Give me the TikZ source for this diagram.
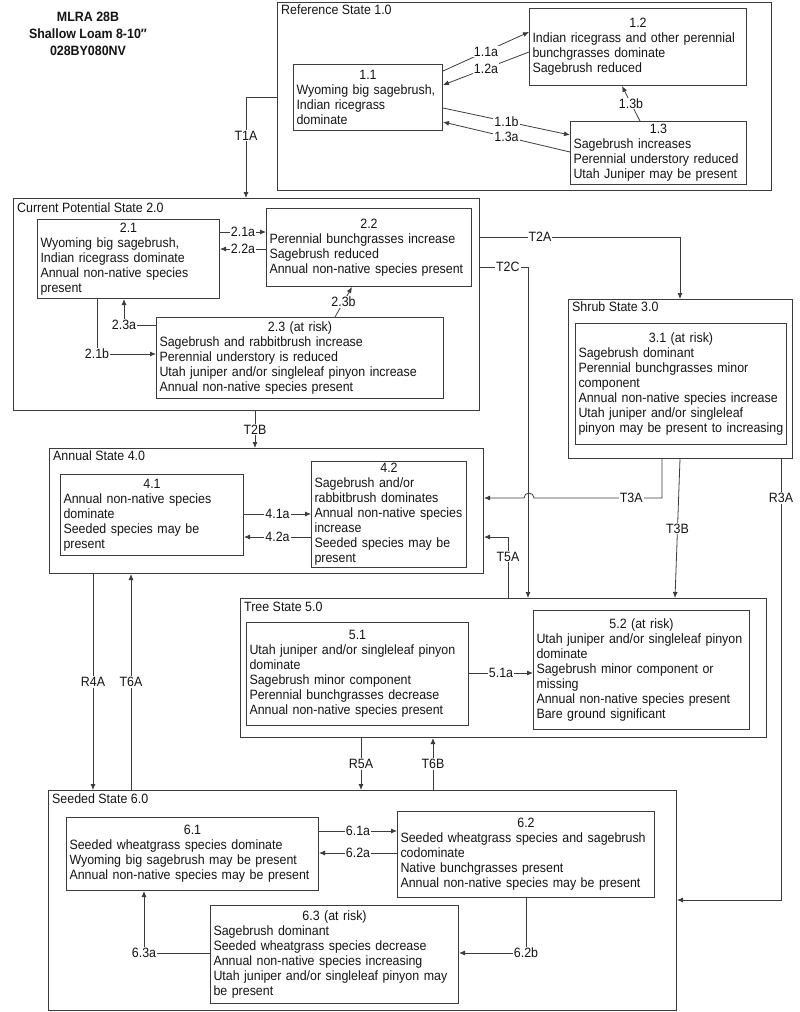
\documentclass[tikz,border=0pt]{standalone}
\usepackage{fontspec}
\setmainfont{Liberation Sans}[FakeStretch=0.92]
\usetikzlibrary{calc,arrows.meta}
\definecolor{linegray}{RGB}{60,60,60}
\definecolor{inkgray}{RGB}{20,20,20}
\begin{document}
\begin{tikzpicture}[x=1pt, y=-1pt, >={Latex[length=6pt,width=5pt]},
  font=\fontsize{13.5}{15}\selectfont, text=inkgray,
  statebox/.style={draw=linegray, line width=1pt, anchor=north west, inner sep=0pt},
  stlbl/.style={anchor=north west, inner sep=2pt},
  phase/.style={draw=linegray, line width=1pt, anchor=north west, align=left, inner xsep=3pt, inner ysep=2pt},
  lbl/.style={fill=white, inner sep=1pt},
  conn/.style={draw=linegray, line width=0.8pt, ->}]
\useasboundingbox (0,0) rectangle (800,1012);
\node[font=\fontsize{13.5}{17}\selectfont\bfseries, align=center] (title) at (88,34) {MLRA 28B\\Shallow Loam 8-10″\\028BY080NV};

\node[statebox, minimum width=494pt, minimum height=188pt] (s1) at (277,2) {};
\node[statebox, minimum width=466pt, minimum height=212pt] (s2) at (13,198) {};
\node[statebox, minimum width=224pt, minimum height=159pt] (s3) at (568,299) {};
\node[statebox, minimum width=434pt, minimum height=125pt] (s4) at (49,448) {};
\node[statebox, minimum width=526pt, minimum height=139pt] (s5) at (240,598) {};
\node[statebox, minimum width=628pt, minimum height=220pt] (s6) at (48,790) {};
\node[stlbl] (l1) at ($(s1.north west)+(2,1)$) {Reference State 1.0};
\node[stlbl] (l2) at ($(s2.north west)+(2,3)$) {Current Potential State 2.0};
\node[stlbl] (l3) at ($(s3.north west)+(2,1)$) {Shrub State 3.0};
\node[stlbl] (l4) at ($(s4.north west)+(2,1)$) {Annual State 4.0};
\node[stlbl] (l5) at ($(s5.north west)+(2,2)$) {Tree State 5.0};
\node[stlbl] (l6) at ($(s6.north west)+(2,2)$) {Seeded State 6.0};

\node[phase, text width=143pt, minimum height=66pt] (b11) at (293,64) {{\centering 1.1\par}Wyoming big sagebrush,\\Indian ricegrass\\dominate};
\node[phase, text width=211pt, minimum height=77pt] (b12) at (529,8) {{\centering 1.2\par}Indian ricegrass and other perennial\\bunchgrasses dominate\\Sagebrush reduced};
\node[phase, text width=170pt, minimum height=63pt] (b13) at (570,121) {{\centering 1.3\par}Sagebrush increases\\Perennial understory reduced\\Utah Juniper may be present};
\node[phase, text width=176pt, minimum height=79pt] (b21) at (37,219) {{\centering 2.1\par}Wyoming big sagebrush,\\Indian ricegrass dominate\\Annual non-native species\\present};
\node[phase, text width=199pt, minimum height=78pt] (b22) at (266,208) {{\centering 2.2\par}Perennial bunchgrasses increase\\Sagebrush reduced\\Annual non-native species present};
\node[phase, text width=281pt, minimum height=81pt] (b23) at (156,317) {{\centering 2.3 (at risk)\par}Sagebrush and rabbitbrush increase\\Perennial understory is reduced\\Utah juniper and/or singleleaf pinyon increase\\Annual non-native species present};
\node[phase, text width=205pt, minimum height=121pt] (b31) at (575,323) {{\centering 3.1 (at risk)\par}Sagebrush dominant\\Perennial bunchgrasses minor\\component\\Annual non-native species increase\\Utah juniper and/or singleleaf\\pinyon may be present to increasing};
\node[phase, text width=177pt, minimum height=81pt] (b41) at (60,474) {{\centering 4.1\par}Annual non-native species\\dominate\\Seeded species may be\\present};
\node[phase, text width=149pt, minimum height=106pt] (b42) at (311,461) {{\centering 4.2\par}Sagebrush and/or\\rabbitbrush dominates\\Annual non-native species\\increase\\Seeded species may be\\present};
\node[phase, text width=216pt, minimum height=103pt] (b51) at (246,622) {{\centering 5.1\par}Utah juniper and/or singleleaf pinyon\\dominate\\Sagebrush minor component\\Perennial bunchgrasses decrease\\Annual non-native species present};
\node[phase, text width=210pt, minimum height=119pt] (b52) at (533,610) {{\centering 5.2 (at risk)\par}Utah juniper and/or singleleaf pinyon\\dominate\\Sagebrush minor component or\\missing\\Annual non-native species present\\Bare ground significant};
\node[phase, text width=246pt, minimum height=73pt] (b61) at (66,817) {{\centering 6.1\par}Seeded wheatgrass species dominate\\Wyoming big sagebrush may be present\\Annual non-native species may be present};
\node[phase, text width=251pt, minimum height=86pt] (b62) at (397,811) {{\centering 6.2\par}Seeded wheatgrass species and sagebrush\\codominate\\Native bunchgrasses present\\Annual non-native species may be present};
\node[phase, text width=242pt, minimum height=98pt] (b63) at (210,905) {{\centering 6.3 (at risk)\par}Sagebrush dominant\\Seeded wheatgrass species decrease\\Annual non-native species increasing\\Utah juniper and/or singleleaf pinyon may\\be present};

\draw[conn] ($(b11.north east)+(0,7)$) -- node[lbl]{1.1a} ($(b12.north west)+(0,24)$);
\draw[conn] ($(b12.north west)+(0,44)$) -- node[lbl]{1.2a} ($(b11.north east)+(0,21)$);
\draw[conn] ($(b11.north east)+(0,44)$) -- node[lbl]{1.1b} ($(b13.north west)+(0,14)$);
\draw[conn] ($(b13.north west)+(0,31)$) -- node[lbl]{1.3a} ($(b11.north east)+(0,58)$);
\draw[conn] ($(b13.north west)+(70,0)$) -- node[lbl]{1.3b} ($(b12.south west)+(93,0)$);

\draw[conn] ($(b21.north east)+(0,13)$) -- node[lbl]{2.1a} ($(b22.north west)+(0,24)$);
\draw[conn] ($(b22.north west)+(0,41)$) -- node[lbl]{2.2a} ($(b21.north east)+(0,30)$);
\draw[conn] ($(b23.north west)+(179,0)$) -- node[lbl]{2.3b} ($(b22.south west)+(86,0)$);
\draw[conn] ($(b23.north west)+(0,8)$) -| node[lbl]{2.3a} ($(b21.south west)+(87,0)$);
\draw[conn] ($(b21.south west)+(60,0)$) |- node[lbl]{2.1b} ($(b23.north west)+(0,37)$);

\draw[conn] ($(b41.north east)+(0,40)$) -- node[lbl]{4.1a} ($(b42.north west)+(0,53)$);
\draw[conn] ($(b42.north west)+(0,76)$) -- node[lbl]{4.2a} ($(b41.north east)+(0,63)$);
\draw[conn] ($(b51.north east)+(0,51)$) -- node[lbl]{5.1a} ($(b52.north west)+(0,63)$);

\draw[conn] ($(b61.north east)+(0,14)$) -- node[lbl]{6.1a} ($(b62.north west)+(0,20)$);
\draw[conn] ($(b62.north west)+(0,42)$) -- node[lbl]{6.2a} ($(b61.north east)+(0,36)$);
\draw[conn] ($(b62.south west)+(129,0)$) |- node[lbl]{6.2b} ($(b63.north east)+(0,48)$);
\draw[conn] ($(b63.north west)+(0,48)$) -| node[lbl]{6.3a} ($(b61.south west)+(78,0)$);

\draw[conn] ($(s1.north west)+(0,95)$) -| node[lbl,pos=0.69]{T1A} ($(s2.north west)+(233,0)$);
\draw[conn] ($(s2.north east)+(0,39)$) -| node[lbl,pos=0.15]{T2A} ($(s3.north west)+(112,0)$);
\draw[conn] ($(s2.north east)+(0,69)$) -| node[lbl,pos=0.29]{T2C} ($(s5.north west)+(288,0)$);
\draw[conn] ($(s2.south west)+(242,0)$) -- node[lbl]{T2B} ($(s4.north west)+(206,0)$);
\draw[conn] ($(s3.south west)+(94,0)$) |- node[lbl,pos=0.62]{T3A} ($(s4.north east)+(50,50)$) arc[start angle=0, end angle=-180, radius=5] -- ($(s4.north east)+(0,50)$);
\draw[conn] ($(s3.south west)+(112,0)$) -- node[lbl]{T3B} ($(s5.north west)+(435,0)$);
\draw[conn] ($(s3.south west)+(213,0)$) |- node[lbl,pos=0.044]{R3A} ($(s6.north east)+(0,110)$);
\draw[conn] ($(s5.north west)+(268,0)$) |- node[lbl,pos=0.34]{T5A} ($(s4.north east)+(0,89)$);
\draw[conn] ($(s4.south west)+(44,0)$) -- node[lbl]{R4A} ($(s6.north west)+(45,0)$);
\draw[conn] ($(s6.north west)+(83,0)$) -- node[lbl]{T6A} ($(s4.south west)+(82,0)$);
\draw[conn] ($(s5.south west)+(121,0)$) -- node[lbl]{R5A} ($(s6.north west)+(313,0)$);
\draw[conn] ($(s6.north west)+(385,0)$) -- node[lbl]{T6B} ($(s5.south west)+(193,0)$);
\end{tikzpicture}
\end{document}
